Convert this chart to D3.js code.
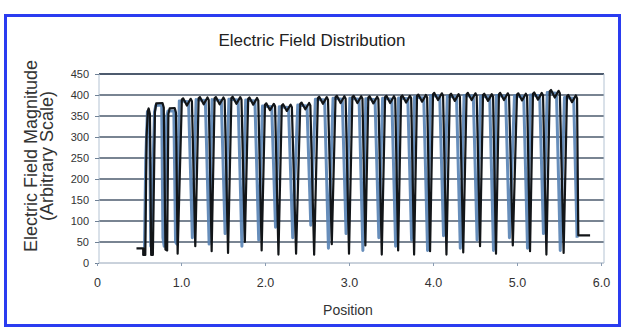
<!DOCTYPE html>
<html>
<head>
<meta charset="utf-8">
<script src="https://cdn.jsdelivr.net/npm/d3@7"></script>
<style>
  html, body { margin: 0; padding: 0; background: #fff; }
  svg { display: block; }
  .lbl { font-family: "Liberation Sans", Arial, sans-serif; }
</style>
</head>
<body>
<div id="chart"></div>
<script>
// x / y ticks
const xTicks = [0, 1, 2, 3, 4, 5, 6];
const xTickLabels = ['0', '1.0', '2.0', '3.0', '4.0', '5.0', '6.0'];
const yTicks = [0, 50, 100, 150, 200, 250, 300, 350, 400, 450];

// black trace (position, magnitude)
const blackX = [
  0.47, 0.55, 0.55, 0.575,
  0.59, 0.605, 0.615, 0.63, 0.645, 0.665,
  0.69, 0.705, 0.78, 0.795, 0.815, 0.835,
  0.85, 0.865, 0.925, 0.94, 0.96,
  1.01, 1.025, 1.07, 1.115, 1.13, 1.17,
  1.21, 1.225, 1.27, 1.315, 1.33, 1.365,
  1.40, 1.415, 1.46, 1.505, 1.52, 1.56,
  1.60, 1.615, 1.66, 1.705, 1.72, 1.76,
  1.80, 1.815, 1.86, 1.905, 1.92, 1.96,
  2.00, 2.015, 2.06, 2.105, 2.12, 2.16,
  2.20, 2.215, 2.26, 2.305, 2.32, 2.37,
  2.42, 2.435, 2.48, 2.525, 2.54, 2.585,
  2.63, 2.645, 2.69, 2.735, 2.75, 2.795,
  2.84, 2.855, 2.90, 2.945, 2.96, 3.0,
  3.04, 3.055, 3.10, 3.145, 3.16, 3.195,
  3.23, 3.245, 3.29, 3.335, 3.35, 3.39,
  3.43, 3.445, 3.49, 3.535, 3.55, 3.585,
  3.62, 3.635, 3.68, 3.725, 3.74, 3.775,
  3.81, 3.825, 3.87, 3.915, 3.93, 3.965,
  4.00, 4.015, 4.06, 4.105, 4.12, 4.16,
  4.20, 4.215, 4.26, 4.305, 4.32, 4.36,
  4.40, 4.415, 4.46, 4.505, 4.52, 4.56,
  4.595, 4.61, 4.655, 4.70, 4.715, 4.75,
  4.785, 4.80, 4.845, 4.89, 4.905, 4.95,
  5.00, 5.015, 5.06, 5.105, 5.12, 5.155,
  5.19, 5.205, 5.25, 5.295, 5.31, 5.35,
  5.39, 5.405, 5.45, 5.495, 5.51, 5.555,
  5.595, 5.61, 5.655, 5.70, 5.715, 5.73, 5.87
];
const blackY = [
  35, 35, 19, 19,
  300, 362, 368, 355, 19, 19,
  360, 380, 381, 370, 32, 30,
  355, 368, 369, 358, 22,
  389, 392, 375, 391, 385, 40,
  392, 395, 378, 394, 388, 28,
  392, 395, 378, 394, 388, 24,
  393, 396, 379, 395, 389, 50,
  391, 394, 377, 393, 387, 30,
  377, 380, 364, 379, 373, 20,
  375, 378, 362, 377, 371, 22,
  379, 382, 366, 381, 375, 20,
  393, 396, 379, 395, 389, 45,
  395, 398, 381, 397, 391, 22,
  395, 398, 381, 397, 391, 42,
  394, 397, 380, 396, 390, 20,
  395, 398, 381, 397, 391, 30,
  396, 399, 382, 398, 392, 20,
  398, 401, 384, 400, 394, 28,
  402, 405, 388, 404, 398, 20,
  400, 403, 386, 402, 396, 25,
  402, 405, 388, 404, 398, 40,
  400, 403, 386, 402, 396, 22,
  402, 405, 388, 404, 398, 42,
  401, 404, 387, 403, 397, 28,
  403, 406, 389, 405, 399, 20,
  409, 412, 394, 410, 404, 24,
  397, 400, 383, 399, 392, 66, 66
];

// blue trace (position, magnitude)
const blueX = [
  0.565, 0.58, 0.60, 0.625, 0.64,
  0.685, 0.70, 0.77, 0.785, 0.80,
  0.83, 0.845, 0.915, 0.935, 0.95,
  0.98, 1.09, 1.135,
  1.18, 1.29, 1.335,
  1.37, 1.48, 1.525,
  1.57, 1.68, 1.725,
  1.77, 1.88, 1.925,
  1.97, 2.08, 2.125,
  2.17, 2.28, 2.33,
  2.39, 2.50, 2.545,
  2.60, 2.71, 2.755,
  2.81, 2.92, 2.965,
  3.01, 3.12, 3.165,
  3.20, 3.31, 3.355,
  3.40, 3.51, 3.555,
  3.59, 3.70, 3.745,
  3.78, 3.89, 3.935,
  3.97, 4.08, 4.125,
  4.17, 4.28, 4.325,
  4.37, 4.48, 4.525,
  4.565, 4.675, 4.72,
  4.755, 4.865, 4.91,
  4.97, 5.08, 5.125,
  5.16, 5.27, 5.315,
  5.36, 5.47, 5.515,
  5.565, 5.675, 5.715
];
const blueY = [
  30, 245, 360, 345, 40,
  360, 375, 376, 60, 40,
  350, 362, 362, 50, 45,
  386, 384, 60,
  389, 387, 45,
  389, 387, 70,
  390, 388, 40,
  388, 386, 55,
  374, 372, 85,
  372, 370, 60,
  376, 374, 90,
  390, 388, 35,
  392, 390, 70,
  392, 390, 30,
  391, 389, 60,
  392, 390, 40,
  393, 391, 55,
  395, 393, 30,
  399, 397, 65,
  397, 395, 35,
  399, 397, 55,
  397, 395, 30,
  399, 397, 60,
  398, 396, 35,
  400, 398, 70,
  406, 404, 30,
  394, 392, 60
];

const width = 623;
const height = 328;

const svg = d3.select('#chart')
  .append('svg')
  .attr('width', width)
  .attr('height', height);

// blue frame round the figure
svg.append('rect')
  .attr('x', 5.5).attr('y', 15.5)
  .attr('width', 614).attr('height', 310)
  .attr('fill', '#fff')
  .attr('stroke', '#2a3cf0')
  .attr('stroke-width', 3);

const xScale = d3.scaleLinear().domain([0, 6]).range([97, 601]);
const yScale = d3.scaleLinear().domain([0, 450]).range([263, 74]);

const plotLeft = 99;
const plotRight = 604;

// gridlines
svg.append('g')
  .selectAll('line')
  .data(yTicks)
  .enter().append('line')
  .attr('x1', plotLeft)
  .attr('x2', plotRight)
  .attr('y1', d => yScale(d))
  .attr('y2', d => yScale(d))
  .attr('stroke', d => d === 0 ? '#8a9cb2' : '#2e3f55')
  .attr('stroke-width', d => d === 450 ? 1.8 : (d === 0 ? 1 : 1.4))
  .attr('opacity', d => d === 0 ? 0.9 : 0.85);

// plot frame sides
svg.append('line')
  .attr('x1', plotLeft).attr('x2', plotLeft)
  .attr('y1', yScale(450)).attr('y2', yScale(0))
  .attr('stroke', '#b4c3d3').attr('stroke-width', 1);
svg.append('line')
  .attr('x1', plotRight).attr('x2', plotRight)
  .attr('y1', yScale(450)).attr('y2', yScale(0))
  .attr('stroke', '#b4c3d3').attr('stroke-width', 1);

// y axis
const yAxis = svg.append('g')
  .attr('class', 'lbl')
  .attr('transform', `translate(${plotLeft},0)`)
  .call(d3.axisLeft(yScale).tickValues(yTicks).tickSize(4).tickPadding(6));
yAxis.select('.domain').remove();
yAxis.selectAll('line').attr('stroke', '#6f8196');
yAxis.selectAll('text')
  .style('font-size', '11px')
  .attr('fill', '#333');

// x axis
const xAxis = svg.append('g')
  .attr('class', 'lbl')
  .attr('transform', `translate(0,${yScale(0)})`)
  .call(d3.axisBottom(xScale).tickValues(xTicks)
    .tickFormat((d, i) => xTickLabels[i]).tickSize(3).tickPadding(12));
xAxis.select('.domain').remove();
xAxis.selectAll('line').attr('stroke', '#8a9cb2');
xAxis.selectAll('text')
  .style('font-size', '12.5px')
  .attr('fill', '#333');

const line = d3.line()
  .x(d => xScale(d[0]))
  .y(d => yScale(d[1]));

const blueData = blueX.map((x, i) => [x, blueY[i]]);
const blackData = blackX.map((x, i) => [x, blackY[i]]);

svg.append('path')
  .datum(blueData)
  .attr('d', line)
  .attr('fill', 'none')
  .attr('stroke', '#5682b4')
  .attr('stroke-width', 3)
  .attr('stroke-linejoin', 'round')
  .attr('opacity', 0.9);

svg.append('path')
  .datum(blackData)
  .attr('d', line)
  .attr('fill', 'none')
  .attr('stroke', '#121518')
  .attr('stroke-width', 2.2)
  .attr('stroke-linejoin', 'round');

// title
svg.append('text')
  .attr('class', 'lbl')
  .attr('x', 312)
  .attr('y', 46)
  .attr('text-anchor', 'middle')
  .style('font-size', '17px')
  .attr('fill', '#222')
  .text('Electric Field Distribution');

// x label
svg.append('text')
  .attr('class', 'lbl')
  .attr('x', 348)
  .attr('y', 315)
  .attr('text-anchor', 'middle')
  .style('font-size', '14px')
  .attr('fill', '#333')
  .text('Position');

// y label, two lines
const yLabel = svg.append('text')
  .attr('class', 'lbl')
  .attr('transform', 'translate(37,156) rotate(-90)')
  .attr('text-anchor', 'middle')
  .style('font-size', '18px')
  .attr('fill', '#333');
yLabel.append('tspan').attr('x', 0).attr('y', 0).text('Electric Field Magnitude');
yLabel.append('tspan').attr('x', 0).attr('y', 16).text('(Arbitrary Scale)');
</script>
</body>
</html>
